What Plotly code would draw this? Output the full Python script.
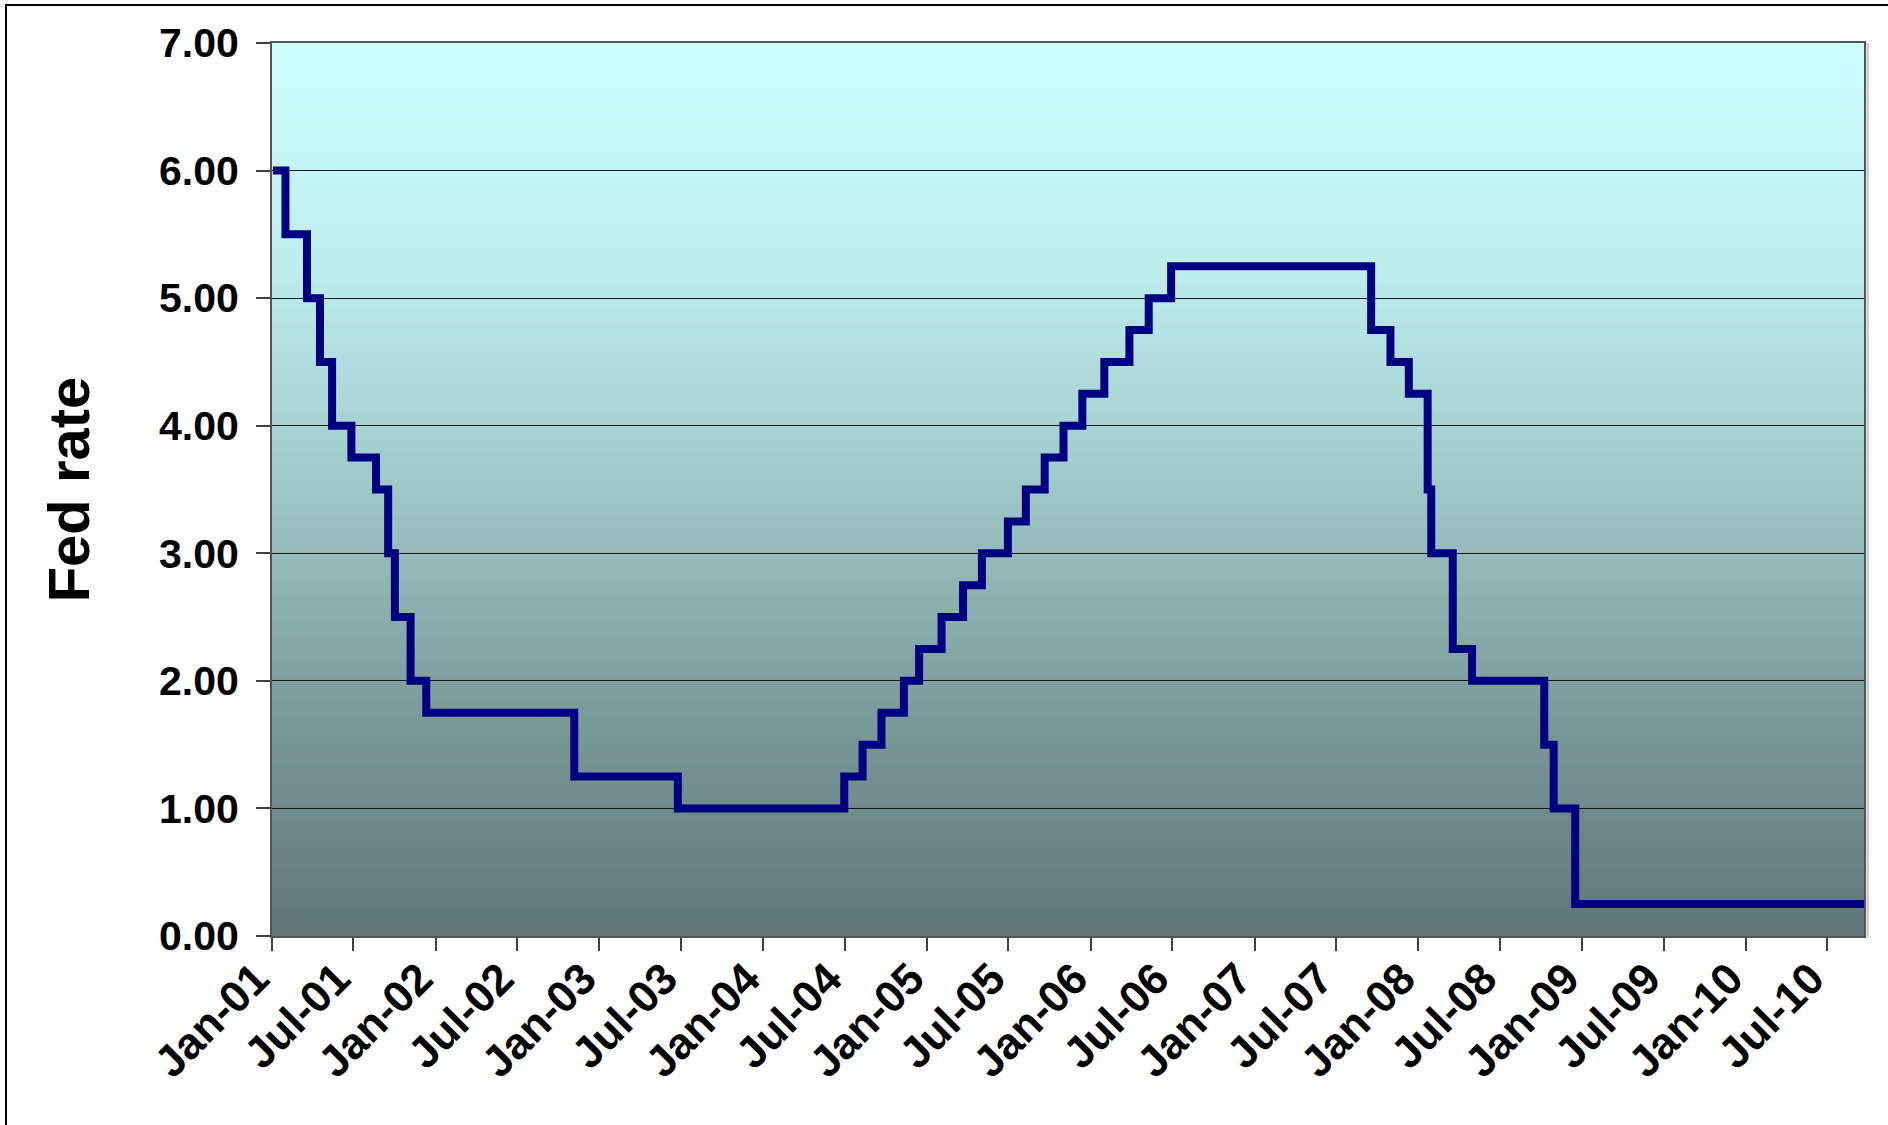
import plotly.graph_objects as go

# Federal funds target rate: date of each change and the new target (%)
change_dates = [
    "2001-01-03", "2001-01-31", "2001-03-20", "2001-04-18", "2001-05-15",
    "2001-06-27", "2001-08-21", "2001-09-17", "2001-10-02", "2001-11-06",
    "2001-12-11", "2002-11-06", "2003-06-25", "2004-06-30", "2004-08-10",
    "2004-09-21", "2004-11-10", "2004-12-14", "2005-02-02", "2005-03-22",
    "2005-05-03", "2005-06-30", "2005-08-09", "2005-09-20", "2005-11-01",
    "2005-12-13", "2006-01-31", "2006-03-28", "2006-05-10", "2006-06-29",
    "2007-09-18", "2007-10-31", "2007-12-11", "2008-01-22", "2008-01-30",
    "2008-03-18", "2008-04-30", "2008-10-08", "2008-10-29", "2008-12-16",
    "2010-09-21",
]
fed_rate = [
    6.00, 5.50, 5.00, 4.50, 4.00,
    3.75, 3.50, 3.00, 2.50, 2.00,
    1.75, 1.25, 1.00, 1.25, 1.50,
    1.75, 2.00, 2.25, 2.50, 2.75,
    3.00, 3.25, 3.50, 3.75, 4.00,
    4.25, 4.50, 4.75, 5.00, 5.25,
    4.75, 4.50, 4.25, 3.50, 3.00,
    2.25, 2.00, 1.50, 1.00, 0.25,
    0.25,
]

x_start, x_end = "2001-01-01", "2010-09-21"
y_ticks = [0, 1, 2, 3, 4, 5, 6, 7]

# Plot-area background: vertical gradient (fraction from top, RGB)
gradient_stops = [
    (0.00, (204, 255, 255)),
    (0.25, (190, 238, 238)),
    (0.50, (158, 200, 200)),
    (0.75, (124, 154, 154)),
    (1.00, (96, 118, 118)),
]


def gradient_color(t):
    for (t0, c0), (t1, c1) in zip(gradient_stops[:-1], gradient_stops[1:]):
        if t <= t1:
            f = (t - t0) / (t1 - t0)
            return "rgb({},{},{})".format(*[round(a + (b - a) * f) for a, b in zip(c0, c1)])
    return "rgb({},{},{})".format(*gradient_stops[-1][1])


n_bands = 180
shapes = []
for i in range(n_bands):
    top = 1 - i / n_bands
    bottom = 1 - (i + 1) / n_bands
    shapes.append(dict(
        type="rect", xref="x domain", yref="y domain",
        x0=0, x1=1, y0=bottom - 0.001, y1=top,
        fillcolor=gradient_color((i + 0.5) / n_bands),
        line=dict(width=0), layer="below",
    ))

# Light shadow along the right edge of the plot area
shapes.append(dict(
    type="line", xref="paper", yref="paper",
    x0=1.0023, x1=1.0023, y0=-0.002, y1=1.0,
    line=dict(color="#c0c0c0", width=2), layer="above",
))

# Outer chart frame
W, H = 1888, 1125
L, R, T, B = 272, 24, 43, 189
pw, ph = W - L - R, H - T - B
shapes.append(dict(
    type="rect", xref="paper", yref="paper",
    x0=(6 - L) / pw, x1=(W + 10 - L) / pw,
    y0=(H - B - (H + 10)) / ph, y1=(H - B - 5) / ph,
    line=dict(color="black", width=2), fillcolor="rgba(0,0,0,0)",
    layer="above",
))

fig = go.Figure()
fig.add_trace(go.Scatter(
    x=change_dates, y=fed_rate, mode="lines",
    line=dict(color="#000080", width=8, shape="hv"),
    hoverinfo="x+y", showlegend=False,
))

fig.update_layout(
    width=W, height=H,
    margin=dict(l=L, r=R, t=T, b=B, pad=0),
    paper_bgcolor="white", plot_bgcolor="#cfffff",
    shapes=shapes,
    font=dict(family="Liberation Sans, Arial, sans-serif", color="black"),
    xaxis=dict(
        type="date", range=[x_start, x_end],
        tick0="2001-01-01", dtick="M6", tickformat="%b-%y",
        tickangle=-45, ticks="outside", ticklen=13, tickwidth=2,
        tickcolor="#404040",
        tickfont=dict(size=44, weight="bold", color="black"),
        ticklabelstandoff=-16, ticklabelshift=-16,
        showgrid=False, zeroline=False,
        showline=True, linecolor="#555555", linewidth=2, mirror=True,
    ),
    yaxis=dict(
        range=[0, 7], tickvals=y_ticks, tickformat=".2f",
        ticks="outside", ticklen=14, tickwidth=2, tickcolor="#404040",
        tickfont=dict(size=41, weight="bold", color="black"),
        ticklabelstandoff=9,
        showgrid=True, gridcolor="#1a1a1a", gridwidth=1,
        zeroline=False,
        showline=True, linecolor="#555555", linewidth=2, mirror=True,
        title=dict(text="Fed rate", standoff=51,
                   font=dict(size=58, weight="bold", color="black")),
    ),
)

fig.write_html("out.html")
